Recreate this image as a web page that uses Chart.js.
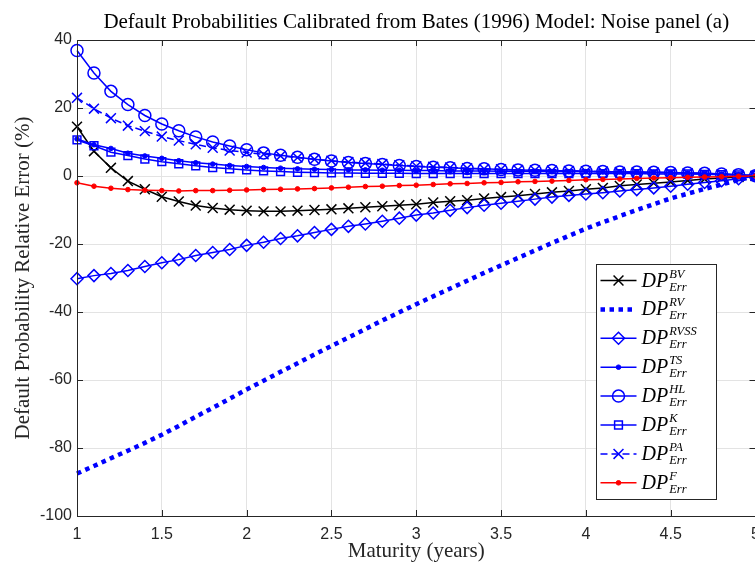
<!DOCTYPE html>
<html>
<head>
<meta charset="utf-8">
<title>Default Probabilities Calibrated from Bates (1996) Model</title>
<script src="https://cdn.jsdelivr.net/npm/chart.js@4.4.1/dist/chart.umd.min.js"></script>
<style>
  html, body { margin: 0; padding: 0; background: #fff; overflow: hidden; }
  #wrap { width: 755px; height: 564px; overflow: hidden; }
</style>
</head>
<body>
<div id="wrap"><canvas id="chart" width="764" height="564"></canvas></div>
<script>
// maturities (years)
const maturity = [1.0, 1.1, 1.2, 1.3, 1.4, 1.5, 1.6, 1.7, 1.8, 1.9, 2.0, 2.1, 2.2, 2.3, 2.4, 2.5, 2.6, 2.7, 2.8, 2.9, 3.0,
  3.1, 3.2, 3.3, 3.4, 3.5, 3.6, 3.7, 3.8, 3.9, 4.0, 4.1, 4.2, 4.3, 4.4, 4.5, 4.6, 4.7, 4.8, 4.9, 5.0];

// relative errors (%)
const errBV = [14.5, 7.3, 2.4, -1.5, -3.9, -6.1, -7.5, -8.7, -9.4, -9.9, -10.2, -10.4, -10.4, -10.2, -10.0, -9.8, -9.5, -9.2, -8.9, -8.6, -8.3,
  -7.8, -7.4, -7.1, -6.6, -6.2, -5.8, -5.3, -4.8, -4.4, -3.9, -3.5, -2.9, -2.5, -2.1, -1.8, -1.3, -0.9, -0.6, -0.3, 0.0];
const errRV = [-87.5, -85.3, -83.0, -80.8, -78.5, -76.1, -73.5, -70.8, -68.2, -65.5, -62.8, -60.2, -57.6, -55.1, -52.5, -50.0, -47.5, -45.0, -42.5, -40.1, -37.7,
  -35.4, -33.1, -30.8, -28.5, -26.3, -24.1, -21.9, -19.7, -17.6, -15.5, -13.6, -11.8, -10.0, -8.3, -6.6, -5.2, -3.8, -2.5, -1.2, 0.0];
const errRVSS = [-30.2, -29.3, -28.7, -27.8, -26.6, -25.5, -24.6, -23.4, -22.5, -21.6, -20.4, -19.5, -18.4, -17.6, -16.6, -15.7, -14.8, -14.1, -13.3, -12.4, -11.5,
  -10.9, -10.1, -9.3, -8.6, -8.0, -7.4, -6.8, -6.2, -5.7, -5.3, -4.9, -4.4, -4.0, -3.5, -3.0, -2.4, -1.9, -1.4, -0.8, 0.0];
const errTS = [10.9, 9.2, 8.1, 6.7, 5.9, 5.2, 4.5, 3.9, 3.5, 3.1, 2.8, 2.5, 2.3, 2.1, 2.0, 1.9, 1.8, 1.8, 1.7, 1.7, 1.6,
  1.6, 1.5, 1.5, 1.5, 1.4, 1.4, 1.4, 1.3, 1.3, 1.3, 1.2, 1.2, 1.1, 1.1, 1.0, 0.9, 0.8, 0.6, 0.4, 0.1];
const errHL = [36.9, 30.3, 24.9, 21.0, 17.8, 15.3, 13.3, 11.5, 10.0, 8.8, 7.7, 6.8, 6.1, 5.5, 4.9, 4.4, 4.0, 3.7, 3.4, 3.1, 2.8,
  2.6, 2.4, 2.2, 2.1, 1.9, 1.8, 1.7, 1.6, 1.5, 1.4, 1.3, 1.2, 1.2, 1.1, 1.0, 0.9, 0.8, 0.6, 0.4, 0.1];
const errK = [10.6, 8.9, 7.0, 6.0, 5.0, 4.2, 3.6, 3.0, 2.5, 2.1, 1.8, 1.5, 1.3, 1.1, 1.0, 0.9, 0.9, 0.8, 0.8, 0.8, 0.7,
  0.7, 0.7, 0.7, 0.7, 0.7, 0.7, 0.7, 0.7, 0.7, 0.7, 0.7, 0.7, 0.7, 0.6, 0.6, 0.6, 0.5, 0.4, 0.3, 0.1];
const errPA = [23.0, 19.8, 17.0, 14.8, 13.2, 11.6, 10.4, 9.3, 8.3, 7.5, 6.9, 6.4, 5.9, 5.4, 4.9, 4.5, 4.1, 3.8, 3.5, 3.2, 2.9,
  2.7, 2.5, 2.3, 2.1, 2.0, 1.8, 1.7, 1.6, 1.5, 1.4, 1.3, 1.2, 1.1, 1.0, 0.9, 0.8, 0.7, 0.5, 0.3, 0.1];
const errF = [-2.0, -3.0, -3.6, -4.0, -4.2, -4.3, -4.4, -4.3, -4.3, -4.2, -4.1, -4.0, -3.9, -3.8, -3.7, -3.5, -3.3, -3.1, -3.0, -2.8, -2.7,
  -2.5, -2.3, -2.2, -2.0, -1.9, -1.7, -1.6, -1.5, -1.3, -1.1, -1.0, -0.9, -0.7, -0.6, -0.5, -0.4, -0.3, -0.2, -0.1, 0.0];

// legend superscripts, one per series
const seriesNames = ['BV', 'RV', 'RVSS', 'TS', 'HL', 'K', 'PA', 'F'];

const xTicks = [1, 1.5, 2, 2.5, 3, 3.5, 4, 4.5, 5];
const yTicks = [-100, -80, -60, -40, -20, 0, 20, 40];

const SERIF = '"Liberation Serif", "Times New Roman", serif';
const SANS = '"Liberation Sans", Arial, Helvetica, sans-serif';
const AXIS = '#262626';
const BLUE = '#0000ff';
const RED = '#ff0000';
const NONE = 'rgba(0,0,0,0)';

const toPts = ys => ys.map((y, i) => ({ x: maturity[i], y: y }));

function series(name, ys, style) {
  return Object.assign({
    label: name,
    data: toPts(ys),
    borderWidth: 1.5,
    pointBorderWidth: 1.5,
    pointHoverRadius: 0,
    tension: 0,
    clip: false,
    fill: false
  }, style);
}

const datasets = [
  series('BV', errBV, { borderColor: '#000', pointStyle: 'crossRot', pointRadius: 7, pointBorderColor: '#000', pointBackgroundColor: NONE, order: 8 }),
  series('RV', errRV, { borderColor: BLUE, borderWidth: 4.5, borderDash: [4.5, 4.5], pointRadius: 0, order: 7 }),
  series('RVSS', errRVSS, { borderColor: BLUE, pointStyle: 'rectRot', pointRadius: 6, pointBorderColor: BLUE, pointBackgroundColor: NONE, order: 6 }),
  series('TS', errTS, { borderColor: BLUE, pointStyle: 'circle', pointRadius: 2.3, pointBorderWidth: 1, pointBorderColor: BLUE, pointBackgroundColor: BLUE, order: 5 }),
  series('HL', errHL, { borderColor: BLUE, pointStyle: 'circle', pointRadius: 6, pointBorderColor: BLUE, pointBackgroundColor: NONE, order: 4 }),
  series('K', errK, { borderColor: BLUE, pointStyle: 'rect', pointRadius: 5.5, pointBorderColor: BLUE, pointBackgroundColor: NONE, order: 3 }),
  series('PA', errPA, { borderColor: BLUE, borderDash: [7, 4], pointStyle: 'crossRot', pointRadius: 7, pointBorderColor: BLUE, pointBackgroundColor: NONE, order: 2 }),
  series('F', errF, { borderColor: RED, pointStyle: 'circle', pointRadius: 2.3, pointBorderWidth: 1, pointBorderColor: RED, pointBackgroundColor: RED, order: 1 })
];

// axes box with inward ticks, MATLAB style
const frame = {
  id: 'frame',
  afterDatasetsDraw(chart) {
    const { ctx, chartArea: a, scales } = chart;
    const len = 6;
    ctx.save();
    ctx.strokeStyle = AXIS;
    ctx.lineWidth = 1;
    ctx.beginPath();
    xTicks.forEach(v => {
      const px = Math.round(scales.x.getPixelForValue(v)) + 0.5;
      ctx.moveTo(px, a.bottom); ctx.lineTo(px, a.bottom - len);
      ctx.moveTo(px, a.top); ctx.lineTo(px, a.top + len);
    });
    yTicks.forEach(v => {
      const py = Math.round(scales.y.getPixelForValue(v)) + 0.5;
      ctx.moveTo(a.left, py); ctx.lineTo(a.left + len, py);
      ctx.moveTo(a.right, py); ctx.lineTo(a.right - len, py);
    });
    ctx.stroke();
    ctx.strokeRect(Math.round(a.left) + 0.5, Math.round(a.top) + 0.5, Math.round(a.right - a.left), Math.round(a.bottom - a.top));
    ctx.restore();
  }
};

// legend with DP^{name}_{Err} labels
const mathLegend = {
  id: 'mathLegend',
  afterDraw(chart) {
    const { ctx, chartArea: a } = chart;
    const boxW = 120, boxH = 235, rowH = 28.9;
    const bx = Math.round(a.right - 40 - boxW) + 0.5;
    const by = Math.round(a.bottom - 17 - boxH) + 0.5;
    ctx.save();
    ctx.fillStyle = '#fff';
    ctx.fillRect(bx, by, boxW, boxH);
    ctx.strokeStyle = AXIS;
    ctx.lineWidth = 1;
    ctx.strokeRect(bx, by, boxW, boxH);

    chart.data.datasets.forEach((ds, i) => {
      const cy = by + 16 + i * rowH;
      const x0 = bx + 4, x1 = bx + 40, xm = (x0 + x1) / 2;
      ctx.save();
      ctx.strokeStyle = ds.borderColor;
      ctx.lineWidth = ds.borderWidth;
      ctx.setLineDash(ds.borderDash || []);
      ctx.beginPath();
      ctx.moveTo(x0, cy); ctx.lineTo(x1, cy);
      ctx.stroke();
      ctx.setLineDash([]);
      if (ds.pointRadius > 0) {
        ctx.strokeStyle = ds.pointBorderColor;
        ctx.fillStyle = ds.pointBackgroundColor;
        ctx.lineWidth = ds.pointBorderWidth;
        Chart.helpers.drawPoint(ctx, { pointStyle: ds.pointStyle, radius: ds.pointRadius, rotation: 0, borderWidth: ds.pointBorderWidth }, xm, cy);
      }
      ctx.restore();

      const tx = bx + 45, base = cy + 6;
      ctx.fillStyle = '#000';
      ctx.textBaseline = 'alphabetic';
      ctx.textAlign = 'left';
      ctx.font = 'italic 20px ' + SERIF;
      ctx.fillText('DP', tx, base);
      const sx = tx + ctx.measureText('DP').width + 1;
      ctx.font = 'italic 12.5px ' + SERIF;
      ctx.fillText(seriesNames[i], sx, base - 9);
      ctx.fillText('Err', sx, base + 4);
    });
    ctx.restore();
  }
};

new Chart(document.getElementById('chart'), {
  type: 'line',
  data: { datasets: datasets },
  plugins: [frame, mathLegend],
  options: {
    responsive: false,
    animation: false,
    events: [],
    layout: { padding: { top: 1, left: 0, right: 0, bottom: 0 } },
    plugins: {
      legend: { display: false },
      tooltip: { enabled: false },
      title: {
        display: true,
        fullSize: false,
        text: 'Default Probabilities Calibrated from Bates (1996) Model: Noise panel (a)',
        color: '#000',
        font: { family: SERIF, size: 21, weight: 'normal' },
        padding: { top: 8.4, bottom: 5.4 }
      }
    },
    scales: {
      x: {
        type: 'linear',
        min: 1,
        max: 5,
        afterFit(scale) { scale.height = 48; scale.paddingRight = 0; scale.paddingLeft = 0; },
        afterBuildTicks(scale) { scale.ticks = xTicks.map(v => ({ value: v })); },
        ticks: { color: AXIS, padding: 9, maxRotation: 0, font: { family: SANS, size: 16 }, callback: v => String(v) },
        grid: { color: '#e3e3e3', lineWidth: 1, drawTicks: false },
        border: { display: false },
        title: {
          display: true,
          text: 'Maturity (years)',
          color: AXIS,
          font: { family: SERIF, size: 21 },
          padding: { top: 0, bottom: 0 }
        }
      },
      y: {
        type: 'linear',
        min: -100,
        max: 40,
        afterFit(scale) { scale.width = 77; },
        afterBuildTicks(scale) { scale.ticks = yTicks.map(v => ({ value: v })); },
        ticks: { color: AXIS, padding: 5, font: { family: SANS, size: 16 }, callback: v => String(v) },
        grid: { color: '#e3e3e3', lineWidth: 1, drawTicks: false },
        border: { display: false },
        title: {
          display: true,
          text: 'Default Probability Relative Error (%)',
          color: AXIS,
          font: { family: SERIF, size: 21 },
          padding: { top: 11, bottom: 11 }
        }
      }
    }
  }
});
</script>
</body>
</html>
